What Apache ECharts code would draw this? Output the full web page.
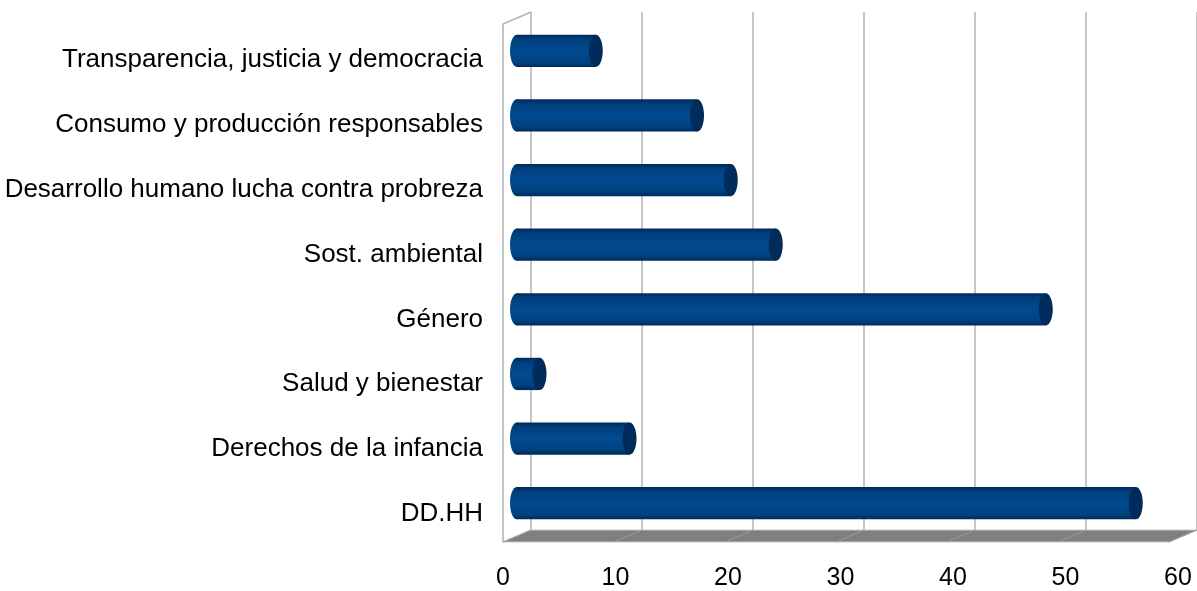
<!DOCTYPE html>
<html>
<head>
<meta charset="utf-8">
<script src="https://cdn.jsdelivr.net/npm/echarts@6/dist/echarts.min.js"></script>
<style>
  html, body { margin: 0; padding: 0; background: #fff; }
  #chart { width: 1197px; height: 591px; }
</style>
</head>
<body>
<div id="chart"></div>
<script>
// categories from bottom to top
const categories = [
  'DD.HH',
  'Derechos de la infancia',
  'Salud y bienestar',
  'Género',
  'Sost. ambiental',
  'Desarrollo humano lucha contra probreza',
  'Consumo y producción responsables',
  'Transparencia, justicia y democracia'
]
const values = [55, 10, 2, 47, 23, 19, 16, 7]
const xTicks = [0, 10, 20, 30, 40, 50, 60]

// depth of the 3d box (front -> back)
const DX = 28
const DY = -12
const gridColor = '#b3b3b3'

const chart = echarts.init(document.getElementById('chart'))

// cylinder bars, drawn on the front grid and pushed half way back
const renderBar = (params, api) => {
  const cat = api.value(0)
  const val = api.value(1)
  const start = api.coord([0, cat])
  const end = api.coord([val, cat])
  const band = api.size([0, 1])[1]
  const h = band * 0.5
  const rx = 7
  const x0 = start[0] + DX / 2
  const x1 = end[0] + DX / 2
  const cy = start[1] + DY / 2
  const body = new echarts.graphic.LinearGradient(0, 0, 0, 1, [
    { offset: 0, color: '#002a5a' },
    { offset: 0.15, color: '#003f7e' },
    { offset: 0.5, color: '#004b8f' },
    { offset: 0.85, color: '#00427f' },
    { offset: 1, color: '#002a58' }
  ])
  return {
    type: 'group',
    children: [
      {
        type: 'ellipse',
        shape: { cx: x0, cy: cy, rx: rx, ry: h / 2 },
        style: { fill: body }
      },
      {
        type: 'rect',
        shape: { x: x0, y: cy - h / 2, width: x1 - x0, height: h },
        style: { fill: body }
      },
      {
        type: 'ellipse',
        shape: { cx: x1, cy: cy, rx: rx, ry: h / 2 },
        style: { fill: '#002b5a' }
      }
    ]
  }
}

// floor and left wall, drawn on the back grid
const renderBox = (params, api) => {
  const b0 = api.coord([0, 0])
  const b60 = api.coord([60, 0])
  const t0 = api.coord([0, 1])
  const children = [
    {
      type: 'polygon',
      shape: { points: [b0, b60, [b60[0] - DX, b60[1] - DY], [b0[0] - DX, b0[1] - DY]] },
      style: { fill: '#7f7f7f', stroke: '#c8c8c8', lineWidth: 1 }
    },
    {
      type: 'polyline',
      shape: { points: [[b0[0] - DX, b0[1] - DY], [t0[0] - DX, t0[1] - DY], t0] },
      style: { fill: null, stroke: gridColor, lineWidth: 1.5 }
    }
  ]
  xTicks.forEach(t => {
    const p = api.coord([t, 0])
    children.push({
      type: 'line',
      shape: { x1: p[0], y1: p[1], x2: p[0] - DX, y2: p[1] - DY },
      style: { stroke: '#999999', lineWidth: 1 }
    })
  })
  return { type: 'group', children }
}

const option = {
  backgroundColor: '#fff',
  animation: false,
  grid: [
    { left: 531, top: 12, width: 675, height: 518 },
    { left: 503, top: 24.5, width: 675, height: 517 },
    { left: 503, top: 27.5, width: 675, height: 519 }
  ],
  xAxis: [
    {
      gridIndex: 0,
      type: 'value',
      min: 0,
      max: 60,
      interval: 10,
      axisLine: { show: false },
      axisTick: { show: false },
      axisLabel: { show: false },
      splitLine: { show: true, lineStyle: { color: gridColor, width: 1.5 } }
    },
    {
      gridIndex: 1,
      type: 'value',
      min: 0,
      max: 60,
      interval: 10,
      axisLine: { show: false },
      axisTick: { show: false },
      splitLine: { show: false },
      axisLabel: {
        color: '#000',
        fontFamily: 'Liberation Sans',
        fontSize: 25,
        margin: 24
      }
    },
    {
      gridIndex: 2,
      type: 'value',
      min: 0,
      max: 60,
      show: false
    }
  ],
  yAxis: [
    {
      gridIndex: 0,
      type: 'value',
      min: 0,
      max: 1,
      show: false
    },
    {
      gridIndex: 1,
      type: 'category',
      data: categories,
      show: false
    },
    {
      gridIndex: 2,
      type: 'category',
      data: categories,
      axisLine: { show: false },
      axisTick: { show: false },
      splitLine: { show: false },
      axisLabel: {
        color: '#000',
        fontFamily: 'Liberation Sans',
        fontSize: 26,
        margin: 20
      }
    }
  ],
  series: [
    {
      type: 'custom',
      xAxisIndex: 0,
      yAxisIndex: 0,
      data: [[0, 0]],
      renderItem: renderBox,
      silent: true,
      z: 1
    },
    {
      type: 'custom',
      xAxisIndex: 1,
      yAxisIndex: 1,
      data: values.map((v, i) => [i, v]),
      encode: { x: 1, y: 0 },
      renderItem: renderBar,
      z: 3
    }
  ]
}

chart.setOption(option)
</script>
</body>
</html>
